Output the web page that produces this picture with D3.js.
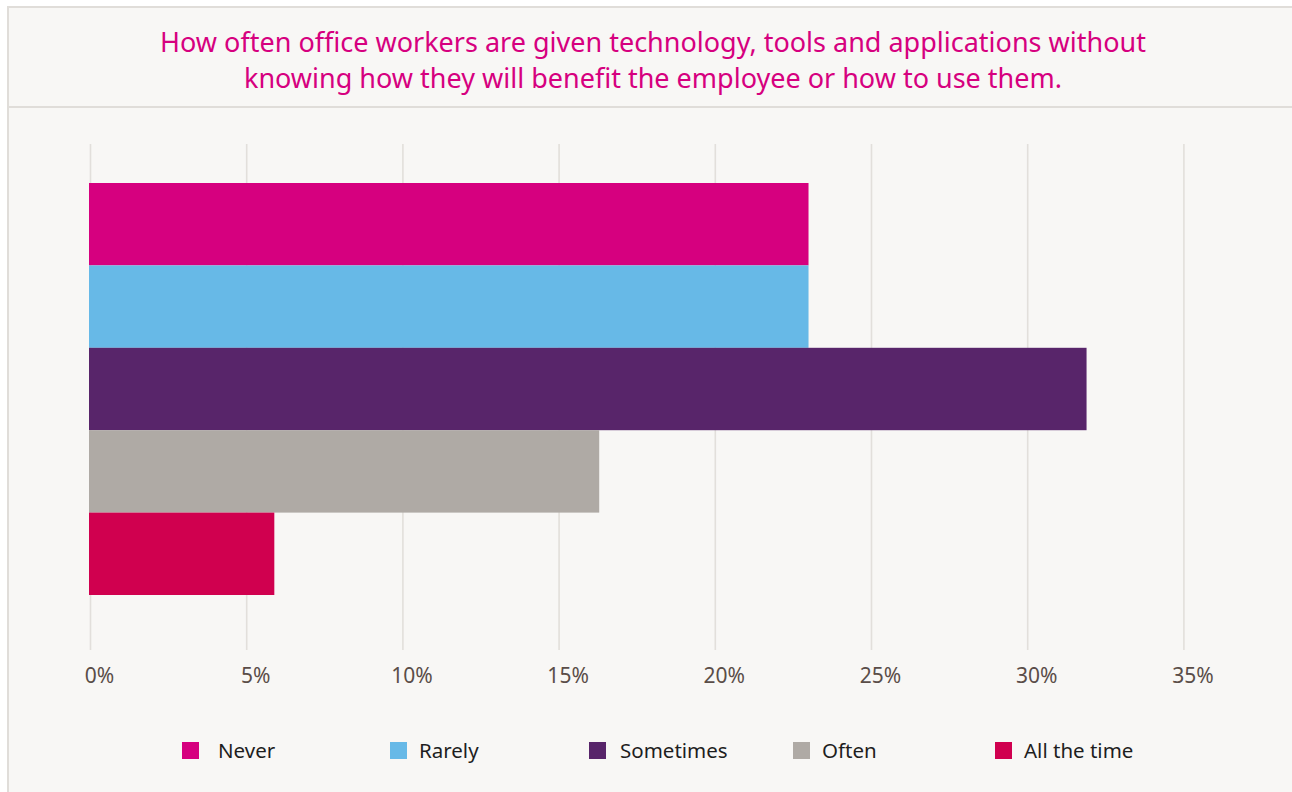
<!DOCTYPE html>
<html>
<head>
<meta charset="utf-8">
<script src="https://cdn.jsdelivr.net/npm/d3@7"></script>
<style>
  body { margin: 0; background: #ffffff; }
  svg { display: block; font-family: "Noto Sans", sans-serif; }
</style>
</head>
<body>
<div id="chart"></div>
<script>
const titleLines = [
    "How often office workers are given technology, tools and applications without",
    "knowing how they will benefit the employee or how to use them."
];
const series = ["Never", "Rarely", "Sometimes", "Often", "All the time"];
const values = [23.0, 23.0, 31.9, 16.3, 5.9];
const colors = ["#d6007f", "#67b9e7", "#58256a", "#afaaa5", "#d0004f"];
const tickValues = [0, 5, 10, 15, 20, 25, 30, 35];

const width = 1292, height = 792;

const svg = d3.select("#chart")
    .append("svg")
    .attr("width", width)
    .attr("height", height);

// panel background and frame
svg.append("rect")
    .attr("x", 8)
    .attr("y", 7)
    .attr("width", width + 20)
    .attr("height", height + 20)
    .attr("fill", "#f8f7f5")
    .attr("stroke", "#e0ddd9")
    .attr("stroke-width", 2);

svg.append("line")
    .attr("x1", 8).attr("x2", width)
    .attr("y1", 107).attr("y2", 107)
    .attr("stroke", "#e0ddd9")
    .attr("stroke-width", 2);

// title
svg.append("text")
    .attr("text-anchor", "middle")
    .attr("fill", "#d6007f")
    .style("font-size", "27px")
    .selectAll("tspan")
    .data(titleLines)
    .enter()
    .append("tspan")
    .attr("x", 653)
    .attr("y", (d, i) => 52 + i * 36)
    .text(d => d);

const x = d3.scaleLinear()
    .domain([0, 35])
    .range([90, 1183.4]);

const y = d3.scaleBand()
    .domain(series)
    .range([183, 595])
    .padding(0);

// gridlines
svg.append("g")
    .attr("transform", "translate(0,650)")
    .call(d3.axisBottom(x).tickValues(tickValues).tickSize(-506).tickFormat(""))
    .call(g => g.select(".domain").remove())
    .call(g => g.selectAll(".tick line").attr("stroke", "#e2dfdb").attr("stroke-width", 1.6));

// bars
svg.selectAll("rect.bar")
    .data(series)
    .enter()
    .append("rect")
    .attr("class", "bar")
    .attr("x", x(0) - 1)
    .attr("y", d => y(d))
    .attr("width", (d, i) => x(values[i]) - x(0) + 1)
    .attr("height", y.bandwidth())
    .attr("fill", (d, i) => colors[i]);

// x axis labels
svg.append("g")
    .attr("transform", "translate(0,660)")
    .call(d3.axisBottom(x).tickValues(tickValues).tickSize(0).tickPadding(0).tickFormat(d => d + "%"))
    .call(g => g.select(".domain").remove())
    .call(g => g.selectAll(".tick text")
        .attr("dx", 9)
        .attr("dy", 23)
        .attr("fill", "#5a4d48")
        .style("font-size", "21px")
        .style("font-family", "'Noto Sans', sans-serif"));

// legend
const legendX = [182, 390, 589, 793, 995];
const legendGap = [36, 29, 31, 29, 29];

const legend = svg.selectAll("g.legend")
    .data(series)
    .enter()
    .append("g")
    .attr("class", "legend")
    .attr("transform", (d, i) => `translate(${legendX[i]},742)`);

legend.append("rect")
    .attr("width", 17)
    .attr("height", 17)
    .attr("fill", (d, i) => colors[i]);

legend.append("text")
    .attr("x", (d, i) => legendGap[i])
    .attr("y", 16)
    .attr("fill", "#1e1e1e")
    .style("font-size", "20.5px")
    .text(d => d);
</script>
</body>
</html>
